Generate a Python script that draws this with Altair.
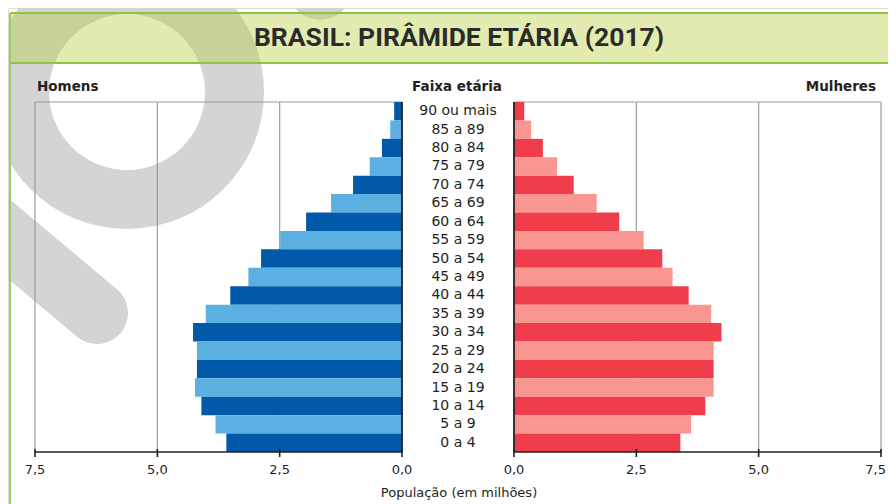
import altair as alt
import pandas as pd

# ---------------- data ----------------
faixas = ["90 ou mais", "85 a 89", "80 a 84", "75 a 79", "70 a 74", "65 a 69",
          "60 a 64", "55 a 59", "50 a 54", "45 a 49", "40 a 44", "35 a 39",
          "30 a 34", "25 a 29", "20 a 24", "15 a 19", "10 a 14", "5 a 9", "0 a 4"]
homens = [0.16, 0.24, 0.41, 0.66, 1.00, 1.45, 1.96, 2.49, 2.88, 3.14, 3.51,
          4.01, 4.27, 4.19, 4.19, 4.23, 4.10, 3.81, 3.59]
mulheres = [0.21, 0.35, 0.59, 0.88, 1.22, 1.69, 2.15, 2.65, 3.03, 3.24, 3.57,
            4.03, 4.24, 4.08, 4.08, 4.08, 3.91, 3.62, 3.40]
marcas = [0.0, 2.5, 5.0, 7.5]

titulo = "BRASIL: PIRÂMIDE ETÁRIA (2017)"
rotulo_h = "Homens"
rotulo_m = "Mulheres"
rotulo_c = "Faixa etária"
titulo_x = "População (em milhões)"

# ---------------- tables ----------------
df = pd.DataFrame({
    "faixa": faixas,
    "homens": homens,
    "mulheres": mulheres,
    "tom": ["escuro" if i % 2 == 0 else "claro" for i in range(len(faixas))],
})
grid_df = pd.DataFrame({"v": marcas})
span_df = pd.DataFrame({"a": [marcas[0]], "b": [marcas[-1]]})
one = alt.Data(values=[{}])

# ---------------- layout constants ----------------
W, H = 880, 496
Y_TOP, Y_BOT = 94, 444
XL_RANGE = [394, 27]
XR_RANGE = [506, 873]
TXT = "#231f20"
FONT = "DejaVu Sans"
HEAD_FONT = "Roboto"
GREEN = "#8cc43f"
WM = "#d3d4d6"

yscale = alt.Scale(domain=faixas, range=[Y_TOP, Y_BOT], paddingInner=0, paddingOuter=0)
fmt = "replace(format(datum.v, '.1f'), '.', ',')"


def side(col, xrange, dark, light, keep_inside):
    xs = alt.Scale(domain=[marcas[0], marcas[-1]], range=xrange)
    grid = alt.Chart(grid_df).transform_filter("datum.v > 0").mark_rule(
        color="#9b9b9b", strokeWidth=1.2
    ).encode(
        x=alt.X("v:Q", scale=xs, axis=None),
        y=alt.value(Y_TOP), y2=alt.value(Y_BOT),
    )
    top = alt.Chart(span_df).mark_rule(color="#9b9b9b", strokeWidth=1.2).encode(
        x=alt.X("a:Q", scale=xs, axis=None), x2="b:Q", y=alt.value(Y_TOP)
    )
    bars = alt.Chart(df).mark_bar().encode(
        x=alt.X(f"{col}:Q", scale=xs, axis=None),
        y=alt.Y("faixa:N", scale=yscale, axis=None),
        color=alt.condition("datum.tom == 'escuro'", alt.value(dark), alt.value(light)),
        tooltip=["faixa:N", f"{col}:Q"],
    )
    zero = alt.Chart(grid_df).transform_filter("datum.v == 0").mark_rule(
        color=TXT, strokeWidth=1.8
    ).encode(
        x=alt.X("v:Q", scale=xs, axis=None),
        y=alt.value(Y_TOP), y2=alt.value(Y_BOT),
    )
    # bottom axis drawn through the same scale
    domain = alt.Chart(span_df).mark_rule(color=TXT, strokeWidth=1.6).encode(
        x=alt.X("a:Q", scale=xs, axis=None), x2="b:Q", y=alt.value(Y_BOT)
    )
    ticks = alt.Chart(grid_df).mark_rule(color=TXT, strokeWidth=1.6).encode(
        x=alt.X("v:Q", scale=xs, axis=None),
        y=alt.value(Y_BOT - 3), y2=alt.value(Y_BOT + 5),
    )
    last = marcas[-1]
    inner_filter = f"datum.v < {last}" if keep_inside else "true"
    labels = alt.Chart(grid_df).transform_filter(inner_filter).transform_calculate(
        lbl=fmt
    ).mark_text(
        font=FONT, fontSize=13, color=TXT, align="center", baseline="middle"
    ).encode(
        x=alt.X("v:Q", scale=xs, axis=None), y=alt.value(Y_BOT + 18), text="lbl:N"
    )
    layers = [grid, top, bars, zero, domain, ticks, labels]
    if keep_inside:
        edge = alt.Chart(grid_df).transform_filter(f"datum.v == {last}").transform_calculate(
            lbl=fmt
        ).mark_text(
            font=FONT, fontSize=13, color=TXT, align="right", baseline="middle", dx=5
        ).encode(
            x=alt.X("v:Q", scale=xs, axis=None), y=alt.value(Y_BOT + 18), text="lbl:N"
        )
        layers.append(edge)
    return alt.layer(*layers)


left = side("homens", XL_RANGE, "#005aa9", "#5bb0e2", False)
right = side("mulheres", XR_RANGE, "#ef3d4b", "#f8968f", True)

x_title = alt.Chart(one).mark_text(text=titulo_x, font=FONT, fontSize=13, color=TXT,
                                   align="center", baseline="middle").encode(
    x=alt.value(451), y=alt.value(Y_BOT + 41))

# ---------------- watermark ("9" shape) ----------------
ring = alt.Chart(one).mark_arc(radius=137, radius2=78, theta=0, theta2=6.2832,
                               color=WM).encode(x=alt.value(119), y=alt.value(84))
tail = alt.Chart(one).mark_rule(color=WM, strokeWidth=62, strokeCap="round").encode(
    x=alt.value(-48), y=alt.value(190), x2=alt.value(89), y2=alt.value(305))
blob = alt.Chart(one).mark_arc(radius=32, theta=0, theta2=6.2832, color=WM).encode(
    x=alt.value(312), y=alt.value(-20))

# ---------------- header band ----------------
band = alt.Chart(one).mark_rect(fill="#b9cd39", fillOpacity=0.4).encode(
    x=alt.value(2), x2=alt.value(W + 10), y=alt.value(5), y2=alt.value(55))
line_top = alt.Chart(one).mark_rule(color=GREEN, strokeWidth=2).encode(
    x=alt.value(2), x2=alt.value(W + 10), y=alt.value(5))
line_bot = alt.Chart(one).mark_rule(color=GREEN, strokeWidth=2).encode(
    x=alt.value(2), x2=alt.value(W + 10), y=alt.value(55))
line_left = alt.Chart(one).mark_rule(color="#9ccc5a", strokeWidth=2).encode(
    x=alt.value(2), y=alt.value(5), y2=alt.value(H + 10))
head = alt.Chart(one).mark_text(text=titulo, font=HEAD_FONT, fontSize=26.5, fontWeight="bold",
                                color="#2b2b2b", align="center", baseline="middle").encode(
    x=alt.value(451), y=alt.value(30))

# ---------------- panel titles & age labels ----------------
t_h = alt.Chart(one).mark_text(text=rotulo_h, font=FONT, fontSize=13.5, fontWeight="bold",
                               color=TXT, align="left", baseline="middle").encode(
    x=alt.value(29), y=alt.value(79))
t_c = alt.Chart(one).mark_text(text=rotulo_c, font=FONT, fontSize=13.5, fontWeight="bold",
                               color=TXT, align="center", baseline="middle").encode(
    x=alt.value(449), y=alt.value(79))
t_m = alt.Chart(one).mark_text(text=rotulo_m, font=FONT, fontSize=13.5, fontWeight="bold",
                               color=TXT, align="right", baseline="middle").encode(
    x=alt.value(868), y=alt.value(79))
ages = alt.Chart(df).mark_text(font=FONT, fontSize=14, color=TXT, align="center",
                               baseline="middle").encode(
    y=alt.Y("faixa:N", scale=yscale, axis=None),
    x=alt.value(450),
    text="faixa:N",
)

chart = alt.layer(
    ring, tail, blob, band, line_top, line_bot, line_left, head,
    left, right, ages, t_h, t_c, t_m, x_title,
).resolve_scale(x="independent").properties(
    width=W, height=H, padding=0, autosize=alt.AutoSizeParams(type="none"),
).configure_view(stroke=None).configure(background="white")

chart.save("out.html", embed_options={"renderer": "svg", "actions": False})
